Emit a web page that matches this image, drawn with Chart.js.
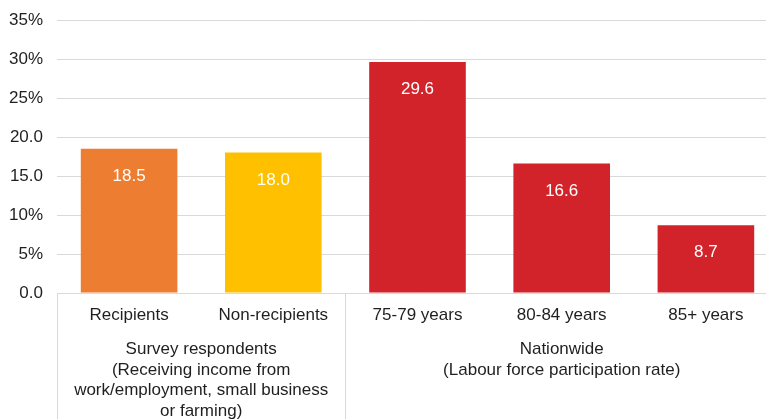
<!DOCTYPE html>
<html>
<head>
<meta charset="utf-8">
<script src="https://cdn.jsdelivr.net/npm/chart.js@4"></script>
<style>
  html, body { margin: 0; padding: 0; background: #fff; overflow: hidden; }
  #wrap { width: 778px; height: 419px; }
</style>
</head>
<body>
<div id="wrap"><canvas id="chart" width="778" height="419"></canvas></div>
<script>
const categories = ['Recipients', 'Non-recipients', '75-79 years', '80-84 years', '85+ years'];
const values = [18.5, 18.0, 29.6, 16.6, 8.7];
const barColors = ['#ED7D31', '#FFC000', '#D2232A', '#D2232A', '#D2232A'];
const yTickLabels = ['0.0', '5%', '10%', '15.0', '20.0', '25%', '30%', '35%'];

// second row of the category axis: each group spans a range of categories
const groupLines = [
    ['Survey respondents', '(Receiving income from', 'work/employment, small business', 'or farming)'],
    ['Nationwide', '(Labour force participation rate)']
];
const groupSpans = [[0, 1], [2, 4]];

const FONT = '"Liberation Sans", Arial, Helvetica, sans-serif';
const TEXT = '#1f1f1f';
const GRID = '#d9d9d9';

// white value labels just under the top of each bar
const valueLabels = {
    id: 'valueLabels',
    afterDatasetsDraw(chart) {
        const ctx = chart.ctx;
        const meta = chart.getDatasetMeta(0);
        ctx.save();
        ctx.font = '17px ' + FONT;
        ctx.fillStyle = '#ffffff';
        ctx.textAlign = 'center';
        ctx.textBaseline = 'alphabetic';
        meta.data.forEach((bar, i) => {
            ctx.fillText(values[i].toFixed(1), bar.x, bar.y + 32);
        });
        ctx.restore();
    }
};

// boxed group labels below the category labels
const groupAxis = {
    id: 'groupAxis',
    afterDraw(chart) {
        const ctx = chart.ctx;
        const x = chart.scales.x;
        const area = chart.chartArea;
        const half = (x.getPixelForValue(1) - x.getPixelForValue(0)) / 2;
        ctx.save();
        ctx.strokeStyle = GRID;
        ctx.lineWidth = 1;
        ctx.beginPath();
        ctx.moveTo(area.left, Math.round(area.bottom) + 0.5);
        ctx.lineTo(area.right, Math.round(area.bottom) + 0.5);
        groupSpans.forEach(([a, b]) => {
            const edges = [x.getPixelForValue(a) - half, x.getPixelForValue(b) + half];
            edges.forEach(e => {
                ctx.moveTo(Math.round(e) + 0.5, area.bottom);
                ctx.lineTo(Math.round(e) + 0.5, chart.height);
            });
        });
        ctx.stroke();

        ctx.font = '17px ' + FONT;
        ctx.fillStyle = TEXT;
        ctx.textAlign = 'center';
        ctx.textBaseline = 'alphabetic';
        groupSpans.forEach(([a, b], gi) => {
            const cx = (x.getPixelForValue(a) + x.getPixelForValue(b)) / 2;
            groupLines[gi].forEach((line, li) => {
                ctx.fillText(line, cx, area.bottom + 61 + li * 20.7);
            });
        });
        ctx.restore();
    }
};

new Chart(document.getElementById('chart'), {
    type: 'bar',
    data: {
        labels: categories,
        datasets: [{
            data: values,
            backgroundColor: barColors,
            borderWidth: 0,
            barPercentage: 0.67,
            categoryPercentage: 1
        }]
    },
    options: {
        responsive: false,
        animation: false,
        events: [],
        layout: { padding: { top: 20, right: 0, bottom: 0, left: 0 } },
        plugins: {
            legend: { display: false },
            tooltip: { enabled: false }
        },
        scales: {
            x: {
                grid: { display: false, drawTicks: false },
                border: { display: false },
                ticks: {
                    padding: 12,
                    color: TEXT,
                    maxRotation: 0,
                    autoSkip: false,
                    font: { family: FONT, size: 17 }
                },
                afterFit(scale) { scale.height = 126; }
            },
            y: {
                min: 0,
                max: 35,
                grid: { color: GRID, drawTicks: false },
                border: { display: false },
                ticks: {
                    stepSize: 5,
                    padding: 14,
                    color: TEXT,
                    font: { family: FONT, size: 17 },
                    callback: (v, i) => yTickLabels[i]
                },
                afterFit(scale) {
                    scale.width = 57;
                    scale.paddingTop = 0;
                    scale.paddingBottom = 0;
                }
            }
        }
    },
    plugins: [valueLabels, groupAxis]
});
</script>
</body>
</html>
